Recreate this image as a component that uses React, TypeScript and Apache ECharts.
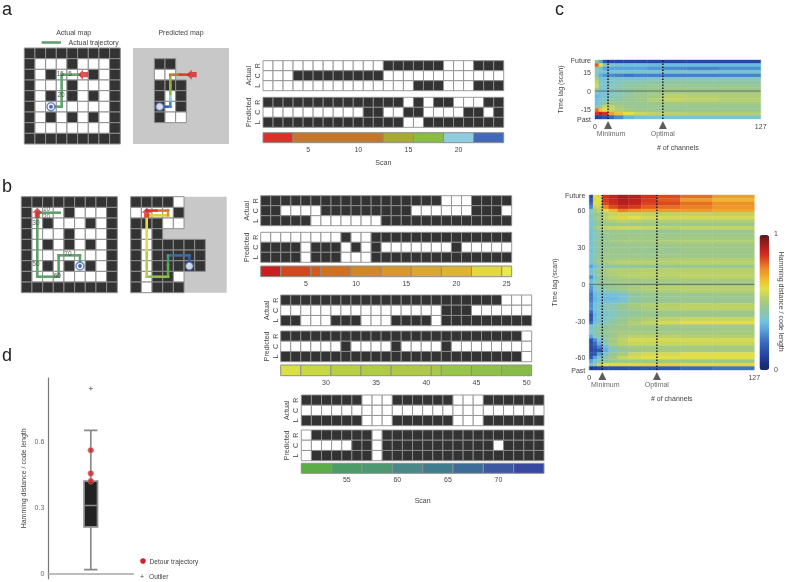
import React, { useEffect, useRef } from "react";
import * as echarts from "echarts";

const FONT = "Liberation Sans";
const TXT = "#444";
const DARK = "#333333";
const CELL_EDGE = "#8e8e8e";
const FS = 7;

// ---- maze maps: # wall, o open, . unknown (grey background)
const actualMaze = ["#########", "#ooo#ooo#", "#o#ooo#o#", "#ooo#ooo#", "#o#o#o#o#", "#ooooooo#", "#o#o#o#o#", "#ooooooo#", "#########"];
const predictedMazeA = [".........", "..##.....", "..oo.....", "..###....", "..#o#....", "..#o#....", "..#oo....", ".........", "........."];
const predictedMazeB = ["####o....", "oooo#....", "###oo....", "#o#......", "#o#####..", "#o#####..", "#o#####..", "#o##o....", "#o###...."];

// ---- trajectories: [x0, y0, x1, y1, colour]
const GREEN_TRACK = "#5fa26c";
const trackActualA = [[2.5, 5.5, 3.5, 5.5], [3.5, 5.5, 3.5, 2.5], [3.5, 2.5, 5.2, 2.5]];
const trackPredA: any[] = [
  [2.5, 5.5, 3.5, 5.5, "#3a5cb4"], [3.5, 5.5, 3.5, 4.9, "#4a86c4"], [3.5, 4.9, 3.5, 4.3, "#90cce0"],
  [3.5, 4.3, 3.5, 3.5, "#88bc44"], [3.5, 3.5, 3.5, 2.6, "#a8a838"], [3.5, 2.5, 4.4, 2.5, "#c07830"], [4.4, 2.5, 5.2, 2.5, "#d8402a"],
];
const trackActualB = [[5.5, 6.5, 5.5, 5.5], [5.5, 5.5, 3.5, 5.5], [3.5, 5.5, 3.5, 7.5], [3.5, 7.5, 1.5, 7.5], [1.5, 7.5, 1.5, 1.5], [1.5, 1.5, 3.6, 1.5]];
const trackPredB: any[] = [
  [5.5, 6.5, 5.5, 5.5, "#3c58a0"], [5.5, 5.5, 3.5, 5.5, "#3c6c98"], [3.5, 5.5, 3.5, 6.4, "#4c9870"], [3.5, 6.4, 3.5, 7.5, "#5cac48"],
  [3.5, 7.5, 1.5, 7.5, "#90c048"], [1.5, 7.5, 1.5, 5, "#b8d040"], [1.5, 5, 1.5, 1.75, "#e4dc40"], [1.5, 1.75, 3.5, 1.75, "#e0cc40"],
  [3.5, 1.75, 3.5, 1.3, "#d8982c"], [3.5, 1.3, 2.4, 1.3, "#d07828"], [2.4, 1.3, 1.5, 1.3, "#d04020"],
];
const scanTextsA = [[3.37, 2.37, "15"], [4.3, 2.37, "5"], [3.44, 4.4, "20"]];
const scanTextsB = [[2.37, 1.12, "10"], [2.37, 1.9, "20"], [1.37, 2.4, "30"], [1.37, 6.3, "50"], [3.37, 7.35, "60"], [4.37, 5.37, "70"]];

// ---- code matrices: 1 = white, 0 = dark, rows R, C, L
const rowNames = ["R", "C", "L"];
const actualA = ["111111111111000000111000", "111000000000111111111111", "111111111111111000111000"];
const predictedA = ["000000000000001010011100", "111111111100110011110010", "000000000000001100000000"];
const actualB1 = ["0000000000000000001110000", "0011110000000001111110001", "0000011111110000000000000"];
const predictedB1 = ["1111111101100000000000000", "0000100010101111111011111", "0000100011100000000000000"];
const actualB2 = ["0000000000000000000000111", "1111111111111111000111111", "0011100011100001000000000"];
const predictedB2 = ["0000000000000000000000001", "1111110111101111011111111", "0000000000000000000000001"];
const actualB3 = ["000000111000000111000000", "111111111111111111111111", "000000111000000111000000"];
const predictedB3 = ["100000010000000000000000", "111110010000000000010000", "100000010000000000000000"];

// ---- scan colour bars: [first scan, last scan, colour]
const barA: any[] = [[1, 3, "#d8322a"], [4, 12, "#c07830"], [13, 15, "#a8a838"], [16, 18, "#88bc44"], [19, 21, "#90cce0"], [22, 24, "#4468b8"]];
const barB1: any[] = [[1, 2, "#c82020"], [3, 5, "#d04820"], [6, 6, "#d05a20"], [7, 9, "#d07020"], [10, 12, "#d08828"], [13, 15, "#d8982c"], [16, 18, "#d8a830"], [19, 21, "#dcb430"], [22, 24, "#e4d840"], [25, 25, "#e8e850"]];
const barB2: any[] = [[26, 27, "#dce040"], [28, 30, "#c8d840"], [31, 33, "#b8d040"], [34, 36, "#b0cc44"], [37, 40, "#b0c848"], [41, 41, "#a8c848"], [42, 44, "#98c448"], [45, 47, "#90c048"], [48, 50, "#88bc48"]];
const barB3: any[] = [[51, 53, "#5cac48"], [54, 56, "#4c9c68"], [57, 59, "#4c9870"], [60, 62, "#488888"], [63, 65, "#407c90"], [66, 68, "#3c6c98"], [69, 71, "#3c58a0"], [72, 74, "#3848a0"]];
const ticksA = [5, 10, 15, 20];
const ticksB1 = [5, 10, 15, 20, 25];
const ticksB2 = [30, 35, 40, 45, 50];
const ticksB3 = [55, 60, 65, 70];

// ---- heatmaps: channel bin edges and one row of values per time-lag band (top = future)
const channelEdges = [0, 3, 6, 10, 15, 22, 30, 40, 52, 70, 95, 127];
const heatC = [
  [0.45, 0.3, 0.15, 0.12, 0.12, 0.12, 0.12, 0.12, 0.12, 0.12, 0.12],
  [0.8, 0.6, 0.42, 0.38, 0.36, 0.35, 0.35, 0.34, 0.34, 0.34, 0.34],
  [0.45, 0.35, 0.3, 0.3, 0.3, 0.3, 0.3, 0.28, 0.26, 0.25, 0.27],
  [0.4, 0.38, 0.36, 0.36, 0.38, 0.38, 0.38, 0.38, 0.38, 0.38, 0.38],
  [0.4, 0.32, 0.28, 0.26, 0.24, 0.22, 0.24, 0.24, 0.24, 0.24, 0.25],
  [0.5, 0.36, 0.36, 0.38, 0.38, 0.38, 0.38, 0.4, 0.4, 0.4, 0.4],
  [0.55, 0.38, 0.38, 0.38, 0.4, 0.42, 0.42, 0.43, 0.44, 0.44, 0.44],
  [0.58, 0.38, 0.38, 0.4, 0.42, 0.44, 0.45, 0.46, 0.46, 0.46, 0.46],
  [0.5, 0.36, 0.38, 0.4, 0.42, 0.44, 0.46, 0.47, 0.48, 0.48, 0.48],
  [0.4, 0.35, 0.36, 0.38, 0.42, 0.44, 0.46, 0.48, 0.5, 0.5, 0.5],
  [0.33, 0.36, 0.38, 0.4, 0.42, 0.46, 0.48, 0.5, 0.54, 0.53, 0.52],
  [0.35, 0.38, 0.38, 0.42, 0.44, 0.46, 0.48, 0.52, 0.55, 0.54, 0.53],
  [0.35, 0.4, 0.45, 0.48, 0.47, 0.47, 0.47, 0.48, 0.5, 0.5, 0.5],
  [0.42, 0.47, 0.56, 0.55, 0.5, 0.47, 0.46, 0.47, 0.47, 0.47, 0.47],
  [0.78, 0.66, 0.6, 0.56, 0.52, 0.5, 0.48, 0.47, 0.47, 0.47, 0.47],
  [0.85, 0.9, 0.85, 0.72, 0.66, 0.6, 0.56, 0.54, 0.53, 0.52, 0.52],
  [0.1, 0.12, 0.15, 0.2, 0.26, 0.33, 0.36, 0.38, 0.38, 0.38, 0.38],
];
const heatB = [
  [0.12, 0.6, 0.58, 0.85, 0.88, 0.92, 0.9, 0.85, 0.82, 0.78, 0.72],
  [0.15, 0.62, 0.6, 0.84, 0.87, 0.91, 0.89, 0.84, 0.8, 0.72, 0.68],
  [0.2, 0.6, 0.58, 0.82, 0.86, 0.9, 0.88, 0.83, 0.82, 0.78, 0.74],
  [0.25, 0.55, 0.56, 0.76, 0.82, 0.86, 0.84, 0.8, 0.78, 0.76, 0.73],
  [0.4, 0.5, 0.54, 0.62, 0.68, 0.76, 0.74, 0.72, 0.72, 0.72, 0.7],
  [0.4, 0.45, 0.48, 0.52, 0.55, 0.56, 0.55, 0.54, 0.54, 0.54, 0.54],
  [0.38, 0.47, 0.5, 0.55, 0.58, 0.62, 0.6, 0.58, 0.58, 0.58, 0.58],
  [0.38, 0.45, 0.48, 0.5, 0.52, 0.54, 0.53, 0.52, 0.52, 0.52, 0.52],
  [0.38, 0.42, 0.45, 0.47, 0.47, 0.47, 0.47, 0.47, 0.47, 0.47, 0.48],
  [0.37, 0.48, 0.52, 0.55, 0.56, 0.57, 0.57, 0.56, 0.54, 0.55, 0.55],
  [0.37, 0.42, 0.46, 0.47, 0.47, 0.47, 0.46, 0.46, 0.46, 0.47, 0.47],
  [0.36, 0.42, 0.44, 0.46, 0.47, 0.48, 0.48, 0.48, 0.48, 0.48, 0.48],
  [0.36, 0.42, 0.44, 0.46, 0.47, 0.48, 0.49, 0.49, 0.49, 0.5, 0.5],
  [0.35, 0.42, 0.45, 0.47, 0.49, 0.5, 0.5, 0.5, 0.51, 0.52, 0.52],
  [0.38, 0.41, 0.44, 0.46, 0.46, 0.47, 0.47, 0.47, 0.48, 0.48, 0.48],
  [0.36, 0.42, 0.44, 0.46, 0.47, 0.47, 0.47, 0.47, 0.47, 0.48, 0.48],
  [0.36, 0.42, 0.45, 0.47, 0.48, 0.48, 0.48, 0.47, 0.47, 0.48, 0.48],
  [0.37, 0.42, 0.44, 0.47, 0.47, 0.47, 0.47, 0.47, 0.48, 0.48, 0.48],
  [0.38, 0.44, 0.47, 0.5, 0.5, 0.51, 0.51, 0.51, 0.52, 0.52, 0.52],
  [0.37, 0.44, 0.47, 0.5, 0.52, 0.53, 0.53, 0.53, 0.53, 0.54, 0.54],
  [0.3, 0.36, 0.4, 0.42, 0.43, 0.44, 0.45, 0.45, 0.46, 0.46, 0.46],
  [0.35, 0.42, 0.46, 0.5, 0.52, 0.52, 0.52, 0.53, 0.53, 0.53, 0.53],
  [0.36, 0.42, 0.46, 0.5, 0.52, 0.53, 0.53, 0.54, 0.54, 0.54, 0.54],
  [0.26, 0.38, 0.44, 0.48, 0.5, 0.52, 0.53, 0.53, 0.53, 0.54, 0.54],
  [0.34, 0.4, 0.44, 0.47, 0.48, 0.48, 0.48, 0.49, 0.49, 0.5, 0.5],
  [0.34, 0.4, 0.44, 0.46, 0.47, 0.48, 0.48, 0.48, 0.48, 0.48, 0.48],
  [0.28, 0.38, 0.42, 0.44, 0.46, 0.48, 0.5, 0.52, 0.53, 0.53, 0.53],
  [0.26, 0.37, 0.4, 0.42, 0.44, 0.46, 0.5, 0.51, 0.52, 0.53, 0.53],
  [0.22, 0.34, 0.36, 0.35, 0.36, 0.38, 0.44, 0.46, 0.47, 0.47, 0.48],
  [0.22, 0.33, 0.35, 0.34, 0.34, 0.37, 0.44, 0.46, 0.47, 0.47, 0.47],
  [0.24, 0.34, 0.36, 0.36, 0.36, 0.38, 0.44, 0.46, 0.47, 0.47, 0.47],
  [0.26, 0.36, 0.38, 0.4, 0.42, 0.46, 0.5, 0.52, 0.53, 0.54, 0.54],
  [0.28, 0.36, 0.38, 0.42, 0.42, 0.46, 0.49, 0.51, 0.53, 0.54, 0.54],
  [0.2, 0.34, 0.37, 0.38, 0.4, 0.43, 0.45, 0.47, 0.48, 0.48, 0.48],
  [0.14, 0.33, 0.37, 0.38, 0.4, 0.44, 0.46, 0.48, 0.48, 0.48, 0.48],
  [0.14, 0.34, 0.37, 0.39, 0.42, 0.46, 0.49, 0.51, 0.54, 0.56, 0.56],
  [0.2, 0.35, 0.38, 0.4, 0.44, 0.48, 0.52, 0.55, 0.58, 0.6, 0.6],
  [0.36, 0.4, 0.42, 0.43, 0.46, 0.48, 0.5, 0.5, 0.5, 0.5, 0.5],
  [0.38, 0.42, 0.44, 0.45, 0.47, 0.48, 0.48, 0.48, 0.48, 0.48, 0.49],
  [0.38, 0.42, 0.44, 0.46, 0.48, 0.5, 0.5, 0.5, 0.5, 0.5, 0.5],
  [0.3, 0.4, 0.42, 0.44, 0.48, 0.52, 0.54, 0.54, 0.54, 0.53, 0.53],
  [0.14, 0.26, 0.36, 0.42, 0.5, 0.54, 0.58, 0.58, 0.58, 0.58, 0.58],
  [0.13, 0.2, 0.32, 0.4, 0.5, 0.54, 0.56, 0.56, 0.56, 0.56, 0.56],
  [0.12, 0.16, 0.24, 0.34, 0.44, 0.48, 0.5, 0.5, 0.5, 0.5, 0.5],
  [0.12, 0.14, 0.16, 0.32, 0.4, 0.46, 0.48, 0.5, 0.5, 0.5, 0.5],
  [0.14, 0.16, 0.3, 0.38, 0.46, 0.5, 0.56, 0.58, 0.58, 0.6, 0.6],
  [0.16, 0.3, 0.36, 0.42, 0.5, 0.56, 0.58, 0.6, 0.6, 0.6, 0.6],
  [0.3, 0.38, 0.42, 0.44, 0.46, 0.47, 0.47, 0.47, 0.48, 0.48, 0.48],
  [0.36, 0.48, 0.55, 0.6, 0.62, 0.62, 0.62, 0.64, 0.64, 0.62, 0.62],
  [0.08, 0.1, 0.12, 0.14, 0.14, 0.14, 0.15, 0.16, 0.17, 0.2, 0.22],
];
const heatPalette = ["#18286a", "#1c3080", "#24409c", "#2c54ac", "#3a68bc", "#4884cc", "#58a4dc", "#70c0e0", "#84c6c0", "#92c69a", "#a6ca80", "#c2d462", "#e2de48", "#eec834", "#f0a82c", "#ec8c28", "#e25c22", "#d4301e", "#b82020", "#8c1c1c", "#5a1a1a"];
const lagTicksC = [[25, "Future"], [15, "15"], [0, "0"], [-15, "-15"], [-22.5, "Past"]];
const lagTicksB = [[73, "Future"], [60, "60"], [30, "30"], [0, "0"], [-30, "-30"], [-60, "-60"], [-70, "Past"]];
const minimumChannels = 10;
const optimalChannels = 52;

// ---- box plot
const boxSummary = [0.02, 0.213, 0.31, 0.42, 0.65];
const detourPoints = [0.56, 0.455, 0.42];
const outlierValues = [0.84];
const boxTicks = [0, 0.3, 0.6];

const text = (t: string, x: number, y: number, o: any = {}) => ({
  type: "text", x, y, rotation: o.rotation || 0, silent: true,
  style: { text: t, x: 0, y: 0, fill: o.fill || TXT, fontSize: o.size || FS, fontFamily: FONT, align: o.align || "left", verticalAlign: "middle" },
});

function buildOption() {
  const grid: any[] = [], xAxis: any[] = [], yAxis: any[] = [], series: any[] = [];
  const addGrid = (box: any, x: any, y: any) => {
    grid.push({ ...box, containLabel: false });
    xAxis.push({ gridIndex: grid.length - 1, ...x });
    yAxis.push({ gridIndex: grid.length - 1, ...y });
    return grid.length - 1;
  };
  const onGrid = (i: number) => ({ xAxisIndex: i, yAxisIndex: i, coordinateSystem: "cartesian2d" });
  const hidden = { show: false };
  const labelStyle = { fontSize: FS, color: TXT, fontFamily: FONT };

  // cells: [x, y, fill]
  const cellSeries = (i: number, cells: any[], lw = 0.9) => ({
    type: "custom", ...onGrid(i), silent: true, clip: false, data: cells, encode: { x: 0, y: 1 },
    renderItem: (_p: any, api: any) => {
      const a = api.coord([api.value(0), api.value(1)]);
      const b = api.coord([api.value(0) + 1, api.value(1) + 1]);
      return { type: "rect", shape: { x: a[0], y: a[1], width: b[0] - a[0], height: b[1] - a[1] }, style: { fill: cells[_p.dataIndex][2], stroke: CELL_EDGE, lineWidth: lw } };
    },
  });
  const segSeries = (i: number, segs: any[], colour?: string) => ({
    type: "custom", ...onGrid(i), silent: true, clip: false, data: segs.map((s) => s.slice(0, 4)), encode: { x: [0, 2], y: [1, 3] },
    renderItem: (p: any, api: any) => {
      const a = api.coord([api.value(0), api.value(1)]);
      const b = api.coord([api.value(2), api.value(3)]);
      return { type: "line", shape: { x1: a[0], y1: a[1], x2: b[0], y2: b[1] }, style: { stroke: colour || segs[p.dataIndex][4], lineWidth: 2.6, lineCap: "square" } };
    },
  });
  const ARROW = "path://M5 0L10 5L7.6 5L7.6 10L2.4 10L2.4 5L0 5Z";
  const mapPanel = (box: any, rows: string[], grey: boolean, segs: any[], colour: string | undefined, texts: any[], start: number[], end: number[], rot: number, filled: boolean) => {
    const i = addGrid(
      { ...box, show: grey, backgroundColor: "#c8c8c8", borderWidth: 0 },
      { type: "value", min: 0, max: 9, show: false },
      { type: "value", min: 0, max: 9, inverse: true, show: false },
    );
    const cells: any[] = [];
    rows.forEach((r, y) => r.split("").forEach((ch, x) => { if (ch !== ".") cells.push([x, y, ch === "#" ? DARK : "#ffffff"]); }));
    series.push(cellSeries(i, cells, 1));
    series.push(segSeries(i, segs, colour));
    series.push({ type: "scatter", ...onGrid(i), silent: true, symbol: "circle", symbolSize: 8, itemStyle: { color: "#ffffff", borderColor: "#3f62bc", borderWidth: 1.4 }, data: [start] });
    if (filled) series.push({ type: "scatter", ...onGrid(i), silent: true, symbol: "circle", symbolSize: 4, itemStyle: { color: "#2c4ca8" }, data: [start] });
    series.push({ type: "scatter", ...onGrid(i), silent: true, symbol: ARROW, symbolRotate: rot, symbolSize: 10, itemStyle: { color: "#d8242a" }, data: [end] });
    if (texts.length) series.push({
      type: "scatter", ...onGrid(i), silent: true, symbolSize: 0, data: texts,
      label: { show: true, position: "inside", formatter: (p: any) => p.value[2], fontSize: 6.5, color: "#333", fontFamily: FONT },
    });
  };

  mapPanel({ left: 24.3, top: 48, width: 96, height: 96 }, actualMaze, false, trackActualA, GREEN_TRACK, scanTextsA, [2.5, 5.5], [5.5, 2.5], 90, true);
  mapPanel({ left: 133, top: 48, width: 96, height: 96 }, predictedMazeA, true, trackPredA, undefined, [], [2.5, 5.5], [5.5, 2.5], 90, false);
  mapPanel({ left: 21.3, top: 196.7, width: 96, height: 96 }, actualMaze, false, trackActualB, GREEN_TRACK, scanTextsB, [5.5, 6.5], [1.5, 1.5], 0, true);
  mapPanel({ left: 130.7, top: 196.7, width: 96, height: 96 }, predictedMazeB, true, trackPredB, undefined, [], [5.5, 6.5], [1.5, 1.5], 0, false);

  const codePanel = (left: number, width: number, first: number, count: number, yA: number, yP: number, yB: number, h: number, barH: number, actual: string[], pred: string[], bar: any[], ticks: number[], scanGap: number, nameX: number) => {
    const xr = { type: "value", min: first - 0.5, max: first + count - 0.5, show: false };
    const addRows = (top: number, rows: string[], name: string) => {
      const i = addGrid({ left, top, width, height: h }, xr, {
        type: "value", min: 0, max: 3, inverse: true,
        axisLine: hidden, axisTick: hidden, splitLine: hidden,
        name, nameLocation: "middle", nameRotate: 90, nameGap: nameX, nameTextStyle: { ...labelStyle },
        axisLabel: { ...labelStyle, rotate: 90, margin: 2, customValues: [0.5, 1.5, 2.5], formatter: (v: number) => rowNames[Math.floor(v)] },
      });
      const cells: any[] = [];
      rows.forEach((r, y) => r.split("").forEach((c, k) => cells.push([first - 0.5 + k, y, c === "1" ? "#ffffff" : DARK])));
      series.push(cellSeries(i, cells));
    };
    addRows(yA, actual, "Actual");
    addRows(yP, pred, "Predicted");
    const b = addGrid({ left, top: yB, width, height: barH }, {
      type: "value", min: first - 0.5, max: first + count - 0.5,
      axisLine: hidden, axisTick: hidden, splitLine: hidden,
      axisLabel: { ...labelStyle, margin: 3, customValues: ticks, showMinLabel: true, showMaxLabel: true },
      name: scanGap ? "Scan" : "", nameLocation: "middle", nameGap: scanGap, nameTextStyle: { ...labelStyle },
    }, { type: "value", min: 0, max: 1, show: false });
    series.push({
      type: "custom", ...onGrid(b), silent: true, clip: false, data: bar.map((s) => s.slice(0, 2)), encode: { x: [0, 1] },
      renderItem: (p: any, api: any) => {
        const a = api.coord([api.value(0) - 0.5, 1]);
        const c = api.coord([api.value(1) + 0.5, 0]);
        return { type: "rect", shape: { x: a[0], y: a[1], width: c[0] - a[0], height: c[1] - a[1] }, style: { fill: bar[p.dataIndex][2], stroke: CELL_EDGE, lineWidth: 1 } };
      },
    });
  };
  codePanel(263, 240.7, 1, 24, 60.7, 97.3, 132.7, 30, 10, actualA, predictedA, barA, ticksA, 16, 11);
  codePanel(260.7, 251, 1, 25, 195.7, 232.3, 266, 30, 10.7, actualB1, predictedB1, barB1, ticksB1, 0, 11);
  codePanel(280.7, 251, 26, 25, 295, 331, 365, 30.7, 10.7, actualB2, predictedB2, barB2, ticksB2, 0, 11);
  codePanel(301.3, 242.7, 51, 24, 395, 430, 463.3, 30.7, 10, actualB3, predictedB3, barB3, ticksB3, 24, 11);

  const heatSeriesIdx: number[] = [];
  const heatPanel = (box: any, rows: number[][], yMin: number, yMax: number, ticks: any[], markOffset: number) => {
    const i = addGrid(box, {
      type: "value", min: 0, max: 127, axisLine: hidden, axisTick: hidden, splitLine: hidden,
      axisLabel: { ...labelStyle, margin: 4, customValues: [0, 127], showMinLabel: true, showMaxLabel: true },
      name: "# of channels", nameLocation: "middle", nameGap: 25, nameTextStyle: { ...labelStyle },
    }, {
      type: "value", min: yMin, max: yMax, axisLine: hidden, axisTick: hidden, splitLine: hidden,
      axisLabel: { ...labelStyle, margin: 4, customValues: ticks.map((t) => t[0]), showMinLabel: true, showMaxLabel: true, formatter: (v: number) => { const f = ticks.find((t) => t[0] === v); return f ? f[1] : ""; } },
      name: "Time lag (scan)", nameLocation: "middle", nameRotate: 90, nameGap: 31, nameTextStyle: { ...labelStyle },
    });
    const step = (yMax - yMin) / rows.length;
    const cells: any[] = [];
    rows.forEach((r, ri) => r.forEach((v, ci) => cells.push([channelEdges[ci], channelEdges[ci + 1], yMax - ri * step, yMax - (ri + 1) * step, v])));
    heatSeriesIdx.push(series.length);
    series.push({
      type: "custom", ...onGrid(i), silent: true, clip: false, data: cells, encode: { x: [0, 1], y: [2, 3] },
      renderItem: (_p: any, api: any) => {
        const a = api.coord([api.value(0), api.value(2)]);
        const b = api.coord([api.value(1), api.value(3)]);
        const fill = api.visual("color");
        return { type: "rect", shape: { x: a[0], y: a[1], width: b[0] - a[0], height: b[1] - a[1] }, style: { fill, stroke: fill, lineWidth: 0.4 } };
      },
    });
    series.push({ type: "line", ...onGrid(i), silent: true, symbol: "none", lineStyle: { color: "#555", width: 0.8 }, data: [[0, 0], [127, 0]] });
    [minimumChannels, optimalChannels].forEach((c, k) => {
      series.push({ type: "line", ...onGrid(i), silent: true, symbol: "none", lineStyle: { color: "#111", width: 1.4, type: [1.5, 1.5] }, data: [[c, yMin], [c, yMax]] });
      series.push({
        type: "scatter", ...onGrid(i), silent: true, clip: false, symbol: "triangle", symbolSize: [8, 8], symbolOffset: [0, markOffset],
        itemStyle: { color: "#333" }, data: [[c, yMin]],
        label: { show: true, position: "bottom", distance: 1, formatter: k === 0 ? "Minimum" : "Optimal", ...labelStyle, offset: [k === 0 ? 3 : 0, 0] },
      });
    });
  };
  heatPanel({ left: 595, top: 60, width: 165.7, height: 59 }, heatC, -22.5, 25, lagTicksC, 6);
  heatPanel({ left: 589.3, top: 195, width: 165, height: 175 }, heatB, -70, 73, lagTicksB, 6);

  // box plot
  const bi = addGrid({ left: 48.3, top: 378, width: 85, height: 200.7 }, {
    type: "category", data: [""], axisLine: { lineStyle: { color: "#a8a8a8", width: 1.6 } }, axisTick: hidden, axisLabel: hidden,
  }, {
    type: "value", min: -0.0213, max: 0.887, splitLine: hidden, axisTick: hidden,
    axisLine: { show: true, lineStyle: { color: "#777", width: 1.2 } },
    axisLabel: { fontSize: FS, color: "#666", fontFamily: FONT, margin: 4, customValues: boxTicks, formatter: (v: number) => String(v) },
    name: "Hamming distance / code length", nameLocation: "middle", nameRotate: 90, nameGap: 21, nameTextStyle: { ...labelStyle },
  });
  series.push({
    type: "boxplot", ...onGrid(bi), silent: true, boxWidth: [13.4, 13.4], data: [boxSummary],
    itemStyle: { color: "#222222", borderColor: "#8a8a8a", borderWidth: 1.7 },
  });
  series.push({
    type: "custom", ...onGrid(bi), silent: true, data: [[0, boxSummary[2]]], encode: { x: 0, y: 1 },
    renderItem: (_p: any, api: any) => {
      const a = api.coord([0, api.value(1)]);
      return { type: "line", shape: { x1: a[0] - 6.5, y1: a[1], x2: a[0] + 6.5, y2: a[1] }, style: { stroke: "#ffffff", lineWidth: 1.7 } };
    },
  });
  series.push({ type: "scatter", ...onGrid(bi), silent: true, symbolSize: 6, itemStyle: { color: "#d0222a", borderColor: "#d8a0a0", borderWidth: 0.6 }, data: detourPoints.map((v) => [0, v]) });
  series.push({ type: "scatter", ...onGrid(bi), silent: true, symbol: "path://M4 0h2v4h4v2H6v4H4V6H0V4h4z", symbolSize: 4, itemStyle: { color: "#444" }, data: outlierValues.map((v) => [0, v]) });

  const graphic = [
    text("a", 2, 8.5, { size: 18, fill: "#222" }),
    text("b", 2, 186, { size: 18, fill: "#222" }),
    text("c", 555, 8.5, { size: 18, fill: "#222" }),
    text("d", 2, 355, { size: 18, fill: "#222" }),
    text("Actual map", 73.7, 32, { align: "center" }),
    text("Predicted map", 181, 32, { align: "center" }),
    text("Actual trajectory", 68.5, 42.5),
    { type: "line", silent: true, shape: { x1: 41.7, y1: 42.5, x2: 61, y2: 42.5 }, style: { stroke: GREEN_TRACK, lineWidth: 2.6 } },
    text("1", 774, 233.5),
    text("0", 774, 369),
    text("Hamming distance / code length", 781.7, 301.7, { rotation: -Math.PI / 2, align: "center" }),
    { type: "circle", silent: true, shape: { cx: 143, cy: 561, r: 2.8 }, style: { fill: "#d0222a" } },
    text("Detour trajectory", 149.5, 561, { size: 6.6 }),
    text("+", 142, 576, { align: "center" }),
    text("Outlier", 149, 576.5, { size: 6.6 }),
  ];

  return {
    animation: false, backgroundColor: "#ffffff", grid, xAxis, yAxis, series, graphic,
    visualMap: {
      type: "continuous", min: 0, max: 1, seriesIndex: heatSeriesIdx, dimension: 4, left: 759.5, top: 235, itemWidth: 9.7, itemHeight: 135,
      padding: 0, calculable: false, realtime: false, hoverLink: false, text: ["", ""], inRange: { color: heatPalette },
    },
  };
}

export default function App() {
  const ref = useRef<HTMLDivElement>(null);
  useEffect(() => {
    const chart = echarts.init(ref.current!, undefined, { renderer: "svg" });
    chart.setOption(buildOption() as any);
    return () => chart.dispose();
  }, []);
  return <div ref={ref} style={{ position: "absolute", left: 0, top: 0, width: 787, height: 582, filter: "blur(0.45px)" }} />;
}
